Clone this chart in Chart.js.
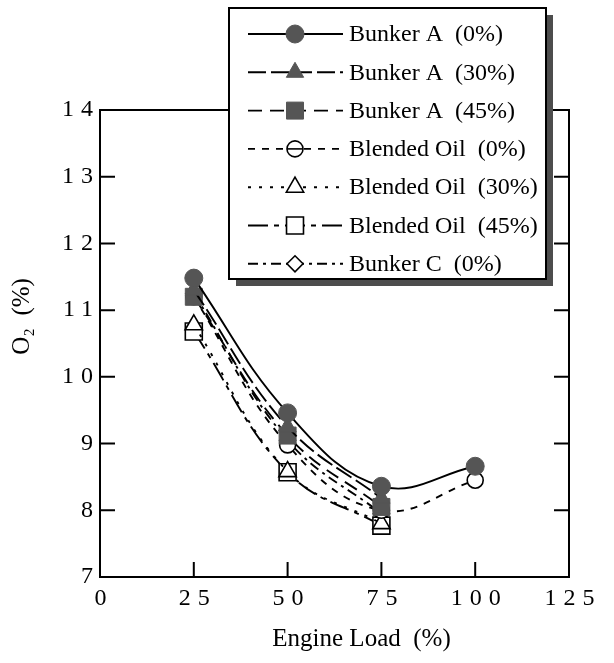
<!DOCTYPE html>
<html><head><meta charset="UTF-8"/>
<title>O2 vs Engine Load</title>
<script src="https://cdn.jsdelivr.net/npm/chart.js"></script>
<style>
* { margin: 0; padding: 0; box-sizing: border-box; }
body { background: #ffffff; width: 614px; height: 663px; overflow: hidden; }
</style>
</head>
<body>
<canvas id="o2Chart" width="614" height="663"></canvas>
<script>
// engine load (%) and measured O2 (%) for each fuel
const loads = [25, 50, 75, 100];
const bunkerA0 = [11.48, 9.46, 8.36, 8.66];
const bunkerA30 = [11.30, 9.25, 8.18];
const bunkerA45 = [11.20, 9.12, 8.05];
const blended0 = [11.20, 8.98, 8.00, 8.45];
const blended30 = [10.78, 8.58, 7.80];
const blended45 = [10.68, 8.57, 7.77];
const bunkerC0 = [11.25, 9.05, 7.95];

const xTicks = [0, 25, 50, 75, 100, 125];
const yTicks = [7, 8, 9, 10, 11, 12, 13, 14];

const FONT = '"Liberation Serif", "Times New Roman", serif';
const GREY = '#555555';

function pts(values) {
    return values.map((v, i) => ({ x: loads[i], y: v }));
}

function series(label, values, style, filled, dash, radius) {
    return {
        label: label,
        data: pts(values),
        borderColor: '#000',
        borderWidth: 1.9,
        borderDash: dash,
        tension: 0.4,
        pointStyle: style,
        pointRadius: radius,
        pointBackgroundColor: filled ? GREY : '#fff',
        pointBorderColor: filled ? GREY : '#000',
        pointBorderWidth: filled ? 1 : 1.6
    };
}

const datasets = [
    series('Bunker A  (0%)', bunkerA0, 'circle', true, [], 9),
    series('Bunker A  (30%)', bunkerA30, 'triangle', true, [18, 5], 10),
    series('Bunker A  (45%)', bunkerA45, 'rect', true, [14, 8], 12),
    series('Blended Oil  (0%)', blended0, 'circle', false, [7, 7], 8),
    series('Blended Oil  (30%)', blended30, 'triangle', false, [3, 8], 10),
    series('Blended Oil  (45%)', blended45, 'rect', false, [20, 6, 5, 6], 12),
    series('Bunker C  (0%)', bunkerC0, 'rectRot', false, [10, 5, 3, 5], 8)
];

// spaced-out digits on the tick labels
function spaceLabels(chart) {
    Object.values(chart.scales).forEach(scale => {
        if (scale._spaced) return;
        const orig = scale.drawLabels;
        scale.drawLabels = function (area) {
            const ctx = this.ctx;
            ctx.save();
            ctx.letterSpacing = '7px';
            // trailing spacing pulls centred labels left, push them back
            if (this.isHorizontal()) ctx.translate(4, 0);
            orig.call(this, area);
            ctx.restore();
        };
        scale._spaced = true;
    });
}

function drawFrame(chart) {
    const ctx = chart.ctx;
    const a = chart.chartArea;
    const xs = chart.scales.x, ys = chart.scales.y;
    const len = 15;
    ctx.save();
    ctx.strokeStyle = '#000';
    ctx.lineWidth = 2;
    ctx.strokeRect(a.left, a.top, a.right - a.left, a.bottom - a.top);
    ctx.beginPath();
    yTicks.slice(1, -1).forEach(v => {
        const y = ys.getPixelForValue(v);
        ctx.moveTo(a.left, y); ctx.lineTo(a.left + len, y);
        ctx.moveTo(a.right, y); ctx.lineTo(a.right - len, y);
    });
    xTicks.slice(1, -1).forEach(v => {
        const x = xs.getPixelForValue(v);
        ctx.moveTo(x, a.bottom); ctx.lineTo(x, a.bottom - len);
    });
    ctx.stroke();

    // axis titles
    ctx.fillStyle = '#000';
    ctx.font = '25px ' + FONT;
    ctx.textAlign = 'center';
    ctx.textBaseline = 'alphabetic';
    ctx.fillText('Engine Load  (%)', (a.left + a.right) / 2 + 27, 646);
    ctx.translate(22, (a.top + a.bottom) / 2 - 27);
    ctx.rotate(-Math.PI / 2);
    ctx.textBaseline = 'middle';
    ctx.font = '25px ' + FONT;
    ctx.fillText('O\u2082  (%)', 0, 0);
    ctx.restore();
}

function drawLegend(chart) {
    const ctx = chart.ctx;
    const box = { x: 229, y: 8, w: 317, h: 271 };
    ctx.save();
    ctx.fillStyle = '#4d4d4d';
    ctx.fillRect(box.x + 7, box.y + 7, box.w, box.h);
    ctx.fillStyle = '#fff';
    ctx.fillRect(box.x, box.y, box.w, box.h);
    ctx.strokeStyle = '#000';
    ctx.lineWidth = 2;
    ctx.strokeRect(box.x, box.y, box.w, box.h);

    chart.data.datasets.forEach((ds, i) => {
        const y = box.y + 26 + i * 38.3;
        ctx.strokeStyle = '#000';
        ctx.lineWidth = ds.borderWidth;
        ctx.setLineDash(ds.borderDash);
        ctx.beginPath();
        ctx.moveTo(248, y);
        ctx.lineTo(343, y);
        ctx.stroke();
        ctx.setLineDash([]);
        ctx.fillStyle = ds.pointBackgroundColor;
        ctx.strokeStyle = ds.pointBorderColor;
        ctx.lineWidth = ds.pointBorderWidth;
        Chart.helpers.drawPoint(ctx, {
            pointStyle: ds.pointStyle,
            radius: ds.pointRadius,
            borderWidth: ds.pointBorderWidth,
            rotation: 0
        }, 295, y);
        // open circle keeps the line running through it
        if (ds.pointStyle === 'circle' && ds.pointBackgroundColor === '#fff') {
            ctx.strokeStyle = '#000';
            ctx.beginPath();
            ctx.moveTo(295 - ds.pointRadius, y);
            ctx.lineTo(295 + ds.pointRadius, y);
            ctx.stroke();
        }
        ctx.fillStyle = '#000';
        ctx.font = '24px ' + FONT;
        ctx.textAlign = 'left';
        ctx.textBaseline = 'middle';
        ctx.fillText(ds.label, 349, y + 1);
    });
    ctx.restore();
}

const framePlugin = {
    id: 'frame',
    afterUpdate: spaceLabels,
    afterDraw(chart) {
        drawFrame(chart);
        drawLegend(chart);
    }
};

new Chart(document.getElementById('o2Chart'), {
    type: 'line',
    data: { datasets: datasets },
    options: {
        responsive: false,
        animation: false,
        layout: { padding: { top: 110, right: 45, bottom: 0, left: 0 } },
        plugins: { legend: { display: false }, tooltip: { enabled: false } },
        scales: {
            x: {
                type: 'linear',
                min: 0, max: 125,
                afterBuildTicks: s => { s.ticks = xTicks.map(v => ({ value: v })); },
                afterFit: s => { s.height = 86; },
                grid: { display: false, drawTicks: false },
                border: { display: false },
                ticks: { color: '#000', padding: 7, maxRotation: 0, font: { family: FONT, size: 24 } }
            },
            y: {
                min: 7, max: 14,
                afterBuildTicks: s => { s.ticks = yTicks.map(v => ({ value: v })); },
                afterFit: s => { s.width = 100; },
                grid: { display: false, drawTicks: false },
                border: { display: false },
                ticks: { color: '#000', padding: 0, font: { family: FONT, size: 24 } }
            }
        }
    },
    plugins: [framePlugin]
});
</script>
</body></html>
